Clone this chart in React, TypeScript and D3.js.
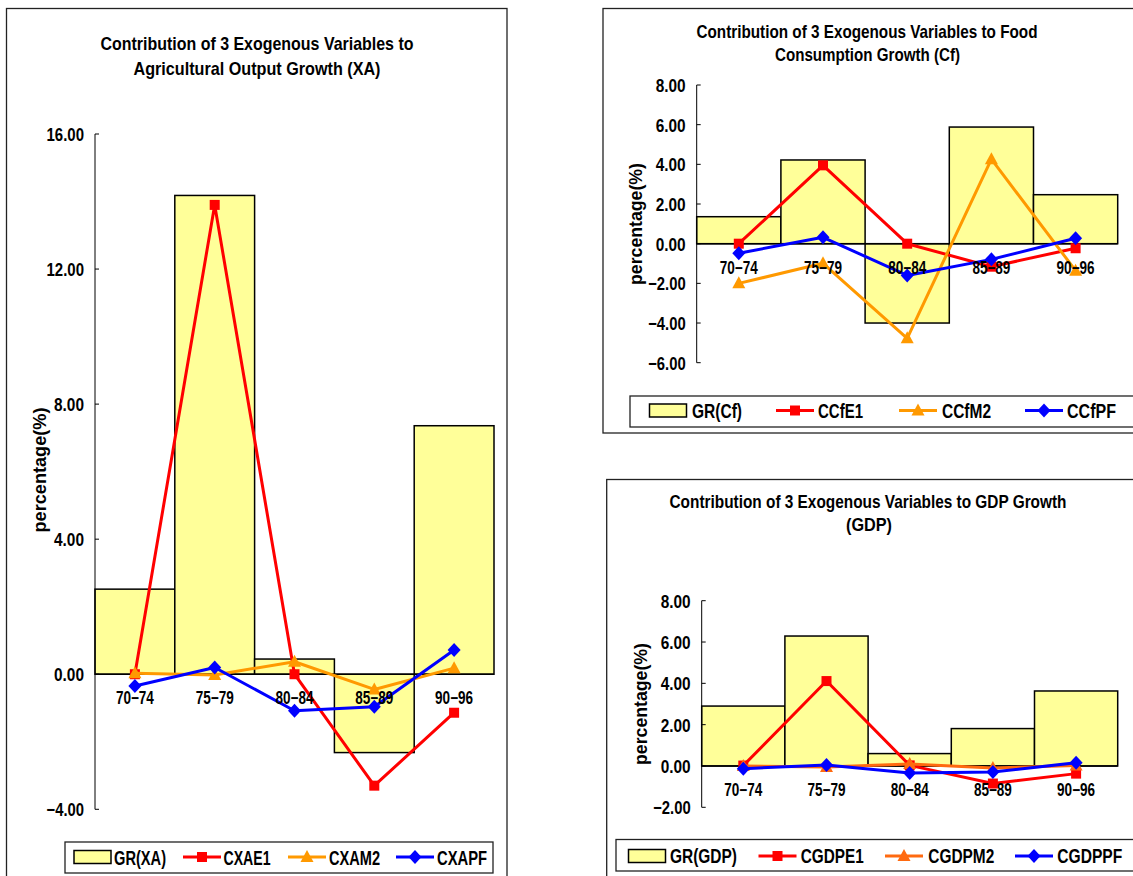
import React from 'react';
import * as d3 from 'd3';

// ---------- data ----------
const categories = ['70−74', '75−79', '80−84', '85−89', '90−96'];

const grXA = [2.52, 14.18, 0.45, -2.32, 7.36];
const cxae1 = [0.0, 13.9, 0.0, -3.3, -1.14];
const cxam2 = [0.03, -0.02, 0.37, -0.45, 0.18];
const cxapf = [-0.35, 0.2, -1.08, -0.96, 0.72];
const ticksXA = [-4, 0, 4, 8, 12, 16];
const namesXA = ['GR(XA)', 'CXAE1', 'CXAM2', 'CXAPF'];

const grCf = [1.36, 4.22, -4.0, 5.88, 2.47];
const ccfe1 = [0.0, 3.95, 0.0, -1.16, -0.23];
const ccfm2 = [-2.0, -0.99, -4.77, 4.26, -1.36];
const ccfpf = [-0.48, 0.32, -1.6, -0.79, 0.27];
const ticksCf = [-6, -4, -2, 0, 2, 4, 6, 8];
const namesCf = ['GR(Cf)', 'CCfE1', 'CCfM2', 'CCfPF'];

const grGDP = [2.9, 6.29, 0.6, 1.81, 3.63];
const cgdpe1 = [0.02, 4.11, 0.03, -0.85, -0.37];
const cgdpm2 = [0.0, -0.05, 0.1, -0.1, 0.02];
const cgdppf = [-0.13, 0.05, -0.34, -0.29, 0.16];
const ticksGDP = [-2, 0, 2, 4, 6, 8];
const namesGDP = ['GR(GDP)', 'CGDPE1', 'CGDPM2', 'CGDPPF'];

const FONT = '"Liberation Sans", Arial, sans-serif';
const BAR_FILL = '#FFFF99';
const RED = '#FF0000';
const BLUE = '#0000FF';

type Shape = 'square' | 'triangle' | 'diamond';

function Marker({ shape, x, y, color }: { shape: Shape; x: number; y: number; color: string }) {
  if (shape === 'square') return <rect x={x - 5} y={y - 5} width={10} height={10} fill={color} />;
  if (shape === 'triangle')
    return <path d={`M${x},${y - 7}L${x + 6.5},${y + 5}L${x - 6.5},${y + 5}Z`} fill={color} />;
  return <path d={`M${x},${y - 7}L${x + 6.5},${y}L${x},${y + 7}L${x - 6.5},${y}Z`} fill={color} />;
}

function T({ x, y, w, size = 16, anchor = 'middle', children, transform }: any) {
  return (
    <text
      x={x}
      y={y}
      textAnchor={anchor}
      fontFamily={FONT}
      fontWeight="bold"
      fontSize={size}
      textLength={w}
      lengthAdjust="spacingAndGlyphs"
      transform={transform}
      fill="#000"
    >
      {children}
    </text>
  );
}

interface ChartCfg {
  frame: [number, number, number, number];
  titles: { text: string; x: number; y: number; w: number }[];
  yLabel: { x: number; y: number; w: number };
  plot: { x0: number; x1: number; yTop: number; yBottom: number; domain: [number, number] };
  ticks: number[];
  bars: number[];
  lines: { values: number[]; color: string; shape: Shape }[];
  names: string[];
  legendBox: [number, number, number, number];
  legendSwatchX: number[];
  legendTextX: number[];
  legendTextW: number[];
  legendCy: number;
  legendBaseline: number;
  tickW: (t: number) => number;
}

function Chart({ cfg }: { cfg: ChartCfg }) {
  const { plot } = cfg;
  const x = d3.scaleBand<string>().domain(categories).range([plot.x0, plot.x1]).padding(0);
  const y = d3.scaleLinear().domain(plot.domain).range([plot.yBottom, plot.yTop]);
  const fmt = d3.format('.2f');
  const y0 = y(0);
  const cx = (c: string) => (x(c) as number) + x.bandwidth() / 2;
  const lineGen = d3
    .line<number>()
    .x((_, i) => cx(categories[i]))
    .y((d) => y(d));

  const [fx, fy, fw, fh] = cfg.frame;
  const [lx, ly, lw, lh] = cfg.legendBox;
  return (
    <g>
      <rect x={fx} y={fy} width={fw} height={fh} fill="#fff" stroke="#222" strokeWidth={1.3} />
      {cfg.titles.map((t, i) => (
        <T key={i} x={t.x} y={t.y} w={t.w} size={19}>
          {t.text}
        </T>
      ))}
      <T
        x={0}
        y={0}
        w={cfg.yLabel.w}
        size={17.5}
        transform={`translate(${cfg.yLabel.x},${cfg.yLabel.y}) rotate(-90)`}
      >
        percentage(%)
      </T>
      {/* bars */}
      {cfg.bars.map((v, i) => (
        <rect
          key={i}
          x={x(categories[i])}
          y={Math.min(y(v), y0)}
          width={x.bandwidth()}
          height={Math.abs(y(v) - y0)}
          fill={BAR_FILL}
          stroke="#000"
          strokeWidth={1.5}
        />
      ))}
      {/* axes */}
      <line x1={plot.x0} x2={plot.x0} y1={plot.yTop} y2={plot.yBottom} stroke="#000" strokeWidth={1} />
      <line x1={plot.x0} x2={plot.x1} y1={y0} y2={y0} stroke="#000" strokeWidth={1.5} />
      {cfg.ticks.map((t) => (
        <g key={t}>
          <line x1={plot.x0} x2={plot.x0 + 4} y1={y(t)} y2={y(t)} stroke="#000" strokeWidth={1} />
          <T x={plot.x0 - 11} y={y(t) + 7} w={cfg.tickW(t)} anchor="end" size={18.5}>
            {fmt(t)}
          </T>
        </g>
      ))}
      {/* lines */}
      {cfg.lines.map((s, si) => (
        <g key={si}>
          <path d={lineGen(s.values) || ''} fill="none" stroke={s.color} strokeWidth={3} strokeLinejoin="round" />
          {s.values.map((v, i) => (
            <Marker key={i} shape={s.shape} x={cx(categories[i])} y={y(v)} color={s.color} />
          ))}
        </g>
      ))}
      {/* category labels */}
      {categories.map((c) => (
        <T key={c} x={cx(c)} y={y0 + 30} w={38} size={17.5}>
          {c}
        </T>
      ))}
      {/* legend */}
      <rect x={lx} y={ly} width={lw} height={lh} fill="#fff" stroke="#222" strokeWidth={1.3} />
      {cfg.names.map((n, i) => {
        const sx = cfg.legendSwatchX[i];
        return (
          <g key={n}>
            {i === 0 ? (
              <rect
                x={sx}
                y={cfg.legendCy - 6.5}
                width={37}
                height={13}
                fill={BAR_FILL}
                stroke="#000"
                strokeWidth={1.5}
              />
            ) : (
              <g>
                <line
                  x1={sx}
                  x2={sx + 38}
                  y1={cfg.legendCy}
                  y2={cfg.legendCy}
                  stroke={cfg.lines[i - 1].color}
                  strokeWidth={3}
                />
                <Marker
                  shape={cfg.lines[i - 1].shape}
                  x={sx + 19}
                  y={cfg.legendCy}
                  color={cfg.lines[i - 1].color}
                />
              </g>
            )}
            <T x={cfg.legendTextX[i]} y={cfg.legendBaseline} w={cfg.legendTextW[i]} anchor="start" size={19.5}>
              {n}
            </T>
          </g>
        );
      })}
    </g>
  );
}

const tickWidth = (t: number) => {
  const s = d3.format('.2f')(t);
  return s.length * 7.5;
};

const cfgXA: ChartCfg = {
  frame: [6.5, 8.5, 500.5, 880],
  titles: [
    { text: 'Contribution of 3 Exogenous Variables to', x: 257, y: 50, w: 313 },
    { text: 'Agricultural Output Growth (XA)', x: 257, y: 75, w: 247 },
  ],
  yLabel: { x: 46, y: 470, w: 125 },
  plot: { x0: 95, x1: 494, yTop: 134, yBottom: 809.3, domain: [-4, 16] },
  ticks: ticksXA,
  bars: grXA,
  lines: [
    { values: cxae1, color: RED, shape: 'square' },
    { values: cxam2, color: '#FF9900', shape: 'triangle' },
    { values: cxapf, color: BLUE, shape: 'diamond' },
  ],
  names: namesXA,
  legendBox: [65, 842, 428, 31],
  legendSwatchX: [74, 183, 288, 396],
  legendTextX: [114, 223.5, 329, 437],
  legendTextW: [52, 47, 51, 50],
  legendCy: 857,
  legendBaseline: 864.5,
  tickW: tickWidth,
};

const cfgCf: ChartCfg = {
  frame: [603, 8.5, 560, 424.5],
  titles: [
    { text: 'Contribution of 3 Exogenous Variables to Food', x: 867, y: 38, w: 341 },
    { text: 'Consumption Growth (Cf)', x: 867.5, y: 61, w: 185 },
  ],
  yLabel: { x: 642, y: 224, w: 122 },
  plot: { x0: 696.7, x1: 1117.7, yTop: 85, yBottom: 362.7, domain: [-6, 8] },
  ticks: ticksCf,
  bars: grCf,
  lines: [
    { values: ccfe1, color: RED, shape: 'square' },
    { values: ccfm2, color: '#FF9900', shape: 'triangle' },
    { values: ccfpf, color: BLUE, shape: 'diamond' },
  ],
  names: namesCf,
  legendBox: [630, 396, 540, 31],
  legendSwatchX: [649.5, 776, 899, 1025],
  legendTextX: [692, 818, 942, 1067],
  legendTextW: [50, 45, 49, 49],
  legendCy: 410.5,
  legendBaseline: 418,
  tickW: tickWidth,
};

const cfgGDP: ChartCfg = {
  frame: [606.7, 479.5, 560, 400],
  titles: [
    { text: 'Contribution of 3 Exogenous Variables to GDP Growth', x: 868, y: 508, w: 397 },
    { text: '(GDP)', x: 869, y: 531, w: 46 },
  ],
  yLabel: { x: 647, y: 704, w: 122 },
  plot: { x0: 701.7, x1: 1117.7, yTop: 600.7, yBottom: 807.3, domain: [-2, 8] },
  ticks: ticksGDP,
  bars: grGDP,
  lines: [
    { values: cgdpe1, color: RED, shape: 'square' },
    { values: cgdpm2, color: '#FF6A10', shape: 'triangle' },
    { values: cgdppf, color: BLUE, shape: 'diamond' },
  ],
  names: namesGDP,
  legendBox: [616, 839.5, 560, 31.5],
  legendSwatchX: [628.5, 758.5, 885, 1015],
  legendTextX: [670, 800.7, 928.3, 1057.3],
  legendTextW: [67, 63, 66, 65],
  legendCy: 856,
  legendBaseline: 863,
  tickW: tickWidth,
};

export default function App() {
  return (
    <svg
      width={1133}
      height={876}
      style={{ position: 'absolute', left: 0, top: 0, background: '#fff' }}
    >
      <rect x={0} y={0} width={1133} height={876} fill="#fff" />
      <Chart cfg={cfgXA} />
      <Chart cfg={cfgCf} />
      <Chart cfg={cfgGDP} />
    </svg>
  );
}
